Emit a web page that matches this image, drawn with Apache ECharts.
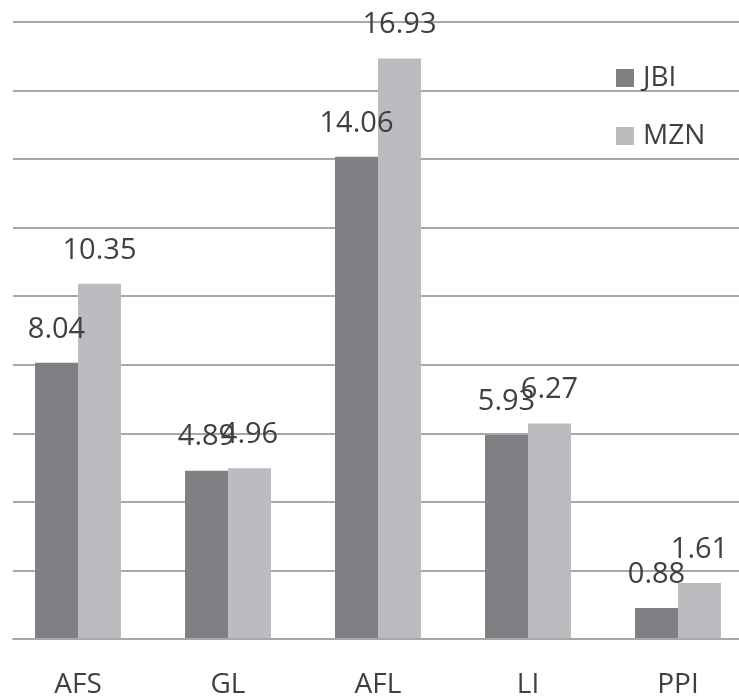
<!DOCTYPE html>
<html>
<head>
<meta charset="utf-8">
<script src="https://cdn.jsdelivr.net/npm/echarts@6/dist/echarts.min.js"></script>
<style>
  html, body { margin: 0; padding: 0; background: #ffffff; overflow: hidden; }
  /* plot area runs slightly past the visible right edge */
  #chart { width: 753px; height: 699px; }
</style>
</head>
<body>
<div id="chart"></div>
<script>
// Measured values per category
const categories = ['AFS', 'GL', 'AFL', 'LI', 'PPI'];
const jbiValues = [8.04, 4.89, 14.06, 5.93, 0.88];
const mznValues = [10.35, 4.96, 16.93, 6.27, 1.61];
const seriesNames = ['JBI', 'MZN'];

const FONT = '"Open Sans", "Liberation Sans", sans-serif';
const TEXT = '#404040';
const GRID_LINE = { color: '#a8a8a8', width: 2 };

const chart = echarts.init(document.getElementById('chart'), null, { renderer: 'canvas' });

const labelStyle = {
  show: true,
  position: 'top',
  distance: 19,
  fontFamily: FONT,
  fontSize: 29,
  color: TEXT
};

const yRange = { type: 'value', min: 0, max: 18, interval: 2,
  axisLine: { show: false }, axisTick: { show: false }, axisLabel: { show: false } };

chart.setOption({
  animation: false,
  backgroundColor: '#ffffff',
  grid: [
    // gridlines and baseline
    { left: 13, top: 22, right: 0, bottom: 60 },
    // bars and category labels
    { left: 3, top: 22, right: 0, bottom: 60 }
  ],
  legend: {
    orient: 'vertical',
    left: 616,
    top: 64,
    padding: 0,
    itemWidth: 18,
    itemHeight: 18,
    itemGap: 30,
    icon: 'rect',
    textStyle: { fontFamily: FONT, fontSize: 28, color: TEXT, padding: [0, 0, 0, 4] },
    data: seriesNames
  },
  xAxis: [
    {
      gridIndex: 0,
      type: 'category',
      data: categories,
      axisLine: { show: true, lineStyle: GRID_LINE },
      axisTick: { show: false },
      axisLabel: { show: false }
    },
    {
      gridIndex: 1,
      type: 'category',
      data: categories,
      axisLine: { show: false },
      axisTick: { show: false },
      axisLabel: { fontFamily: FONT, fontSize: 28, color: TEXT, margin: 33 }
    }
  ],
  yAxis: [
    Object.assign({ gridIndex: 0, splitLine: { lineStyle: GRID_LINE } }, yRange),
    Object.assign({ gridIndex: 1, splitLine: { show: false } }, yRange)
  ],
  series: [
    {
      name: seriesNames[0],
      type: 'bar',
      xAxisIndex: 1,
      yAxisIndex: 1,
      data: jbiValues,
      barWidth: 43,
      barGap: '0%',
      itemStyle: { color: '#7f7f84' },
      label: labelStyle
    },
    {
      name: seriesNames[1],
      type: 'bar',
      xAxisIndex: 1,
      yAxisIndex: 1,
      data: mznValues,
      barWidth: 43,
      barGap: '0%',
      itemStyle: { color: '#bcbcc0' },
      label: labelStyle
    }
  ]
});
</script>
</body>
</html>
